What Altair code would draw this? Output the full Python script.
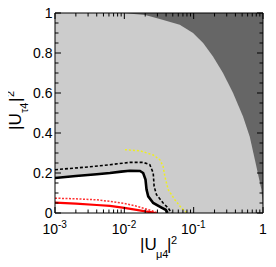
import altair as alt
import pandas as pd

# ---- data ----
bound_x = [0.001, 0.0095, 0.02, 0.0325, 0.063, 0.098, 0.137, 0.19, 0.265, 0.37, 0.515, 0.643, 0.803, 0.948, 1.0]
bound_y = [1.0, 1.0, 0.99, 0.97, 0.941, 0.9, 0.85, 0.783, 0.7, 0.6, 0.483, 0.383, 0.233, 0.117, 0.03]

solid_x = [0.001, 0.002, 0.004, 0.0062, 0.009, 0.012, 0.0168, 0.0187, 0.0202, 0.0209, 0.0221, 0.0261, 0.0344, 0.0395, 0.0412, 0.0415]
solid_y = [0.175, 0.185, 0.194, 0.2, 0.207, 0.2115, 0.21, 0.2, 0.167, 0.117, 0.083, 0.05, 0.027, 0.016, 0.006, 0.0]

dotted_x = [0.001, 0.003, 0.0062, 0.012, 0.0187, 0.0233, 0.0261, 0.0269, 0.0291, 0.0363, 0.0429, 0.0479]
dotted_y = [0.2165, 0.23, 0.2415, 0.253, 0.253, 0.2415, 0.2, 0.133, 0.0915, 0.05, 0.025, 0.0]

yellow_x = [0.0102, 0.0168, 0.0261, 0.0325, 0.0363, 0.0384, 0.0429, 0.0535, 0.0667, 0.079]
yellow_y = [0.3165, 0.311, 0.29, 0.2665, 0.233, 0.183, 0.1165, 0.0665, 0.025, 0.003]

red_solid_x = [0.001, 0.002, 0.004, 0.0062, 0.01, 0.015, 0.02, 0.025, 0.028]
red_solid_y = [0.052, 0.047, 0.04, 0.036, 0.026, 0.016, 0.008, 0.003, 0.0]

red_dot_x = [0.001, 0.002, 0.004, 0.0062, 0.01, 0.015, 0.02, 0.025, 0.03]
red_dot_y = [0.074, 0.071, 0.066, 0.058, 0.048, 0.034, 0.021, 0.011, 0.0]

x_label_vals = [0.001, 0.01, 0.1, 1.0]
x_label_base = ["10", "10", "10", "1"]
x_label_exp = ["-3", "-2", "-1", ""]
y_label_vals = [0, 0.2, 0.4, 0.6, 0.8, 1.0]

W, H = 208, 200
FONT = "Liberation Sans"

xs = alt.Scale(type="log", domain=[0.001, 1])
ys = alt.Scale(domain=[0, 1])

yaxis = alt.Axis(values=y_label_vals, format="~g", ticks=False, domain=False, grid=False,
                 labelFontSize=14, labelFont=FONT, labelColor="black", labelPadding=3, title=None)


def df(xv, yv):
    return pd.DataFrame({"x": xv, "y": yv, "i": list(range(len(xv)))})


def X():
    return alt.X("x:Q", scale=xs, axis=None)


def Y():
    return alt.Y("y:Q", scale=ys, axis=yaxis)


light = alt.Chart(df(bound_x, bound_y)).mark_area(color="#cccccc", opacity=1).encode(
    x=X(), y=Y())
white = alt.Chart(df(solid_x, solid_y)).mark_area(color="white", opacity=1).encode(
    x=X(), y=Y())


def line(xv, yv, color, width, dash=None):
    kw = dict(color=color, strokeWidth=width, clip=True)
    if dash:
        kw["strokeDash"] = dash
    return alt.Chart(df(xv, yv)).mark_line(**kw).encode(x=X(), y=Y(), order="i:Q")


l_yellow = line(yellow_x, yellow_y, "#eeee22", 1.5, [2, 2])
l_rdot = line(red_dot_x, red_dot_y, "#ff3030", 1.5, [2, 1.5])
l_rsol = line(red_solid_x, red_solid_y, "#ff0000", 2.2)
l_bdot = line(dotted_x, dotted_y, "black", 1.6, [3, 2])
l_bsol = line(solid_x, solid_y, "black", 2.6)

# ---- ticks (inside, on all sides) ----
x_major = [0.001, 0.01, 0.1, 1.0]
x_minor = [m * d for d in [0.001, 0.01, 0.1] for m in range(2, 10)]
y_major = y_label_vals
y_minor = [round(k * 0.05, 2) for k in range(21) if k % 4 != 0]

tick_layers = []
for vals, ln in [(x_major, 6), (x_minor, 3.5)]:
    d = pd.DataFrame({"x": vals})
    tick_layers.append(alt.Chart(d).mark_rule(color="black", strokeWidth=1).encode(
        x=X(), y=alt.value(H), y2=alt.value(H - ln)))
    tick_layers.append(alt.Chart(d).mark_rule(color="black", strokeWidth=1).encode(
        x=X(), y=alt.value(0), y2=alt.value(ln)))
for vals, ln in [(y_major, 6), (y_minor, 3.5)]:
    d = pd.DataFrame({"y": vals})
    tick_layers.append(alt.Chart(d).mark_rule(color="black", strokeWidth=1).encode(
        y=Y(), x=alt.value(0), x2=alt.value(ln)))
    tick_layers.append(alt.Chart(d).mark_rule(color="black", strokeWidth=1).encode(
        y=Y(), x=alt.value(W), x2=alt.value(W - ln)))

one = pd.DataFrame({"a": [0]})
frame = alt.Chart(one).mark_rect(fillOpacity=0, stroke="black", strokeWidth=1).encode(
    x=alt.value(0), x2=alt.value(W), y=alt.value(0), y2=alt.value(H))

# ---- x tick labels ----
xl = pd.DataFrame({"x": x_label_vals, "b": x_label_base, "e": x_label_exp})
xl_pow = xl[xl["e"] != ""]
xl_one = xl[xl["e"] == ""]
xlab_base = alt.Chart(xl_pow).mark_text(align="right", baseline="alphabetic", dx=3, fontSize=14,
                                        font=FONT, color="black").encode(
    x=X(), y=alt.value(H + 20.5), text="b:N")
xlab_exp = alt.Chart(xl_pow).mark_text(align="left", baseline="alphabetic", dx=3, fontSize=10,
                                       font=FONT, color="black").encode(
    x=X(), y=alt.value(H + 15), text="e:N")
xlab_one = alt.Chart(xl_one).mark_text(align="center", baseline="alphabetic", fontSize=14,
                                       font=FONT, color="black").encode(
    x=X(), y=alt.value(H + 20.5), text="b:N")


# ---- axis titles with sub/superscripts ----
def txt(s, x, y, size, angle=0):
    kw = dict(text=s, align="left", baseline="alphabetic", fontSize=size, font=FONT, color="black")
    if angle:
        kw["angle"] = angle
    return alt.Chart(one).mark_text(**kw).encode(x=alt.value(x), y=alt.value(y))


titles = [
    txt("|U", 85, 237, 17),
    txt("μ4", 101, 245, 11),
    txt("|", 112, 237, 17),
    txt("2", 116, 231, 11),
    txt("|U", -34.5, 117, 17, 270),
    txt("τ4", -27.5, 100, 11, 270),
    txt("|", -34.5, 89, 17, 270),
    txt("2", -41, 84, 11, 270),
]

chart = alt.layer(
    light, white, l_yellow, l_rdot, l_rsol, l_bdot, l_bsol,
    *tick_layers, frame, xlab_base, xlab_exp, xlab_one, *titles
).properties(
    width=W, height=H, autosize="none",
    padding={"left": 47, "top": 5, "right": 5, "bottom": 50}
).configure_view(fill="#666666", strokeWidth=0)

chart.save("out.html", embed_options={"renderer": "svg", "actions": False})
